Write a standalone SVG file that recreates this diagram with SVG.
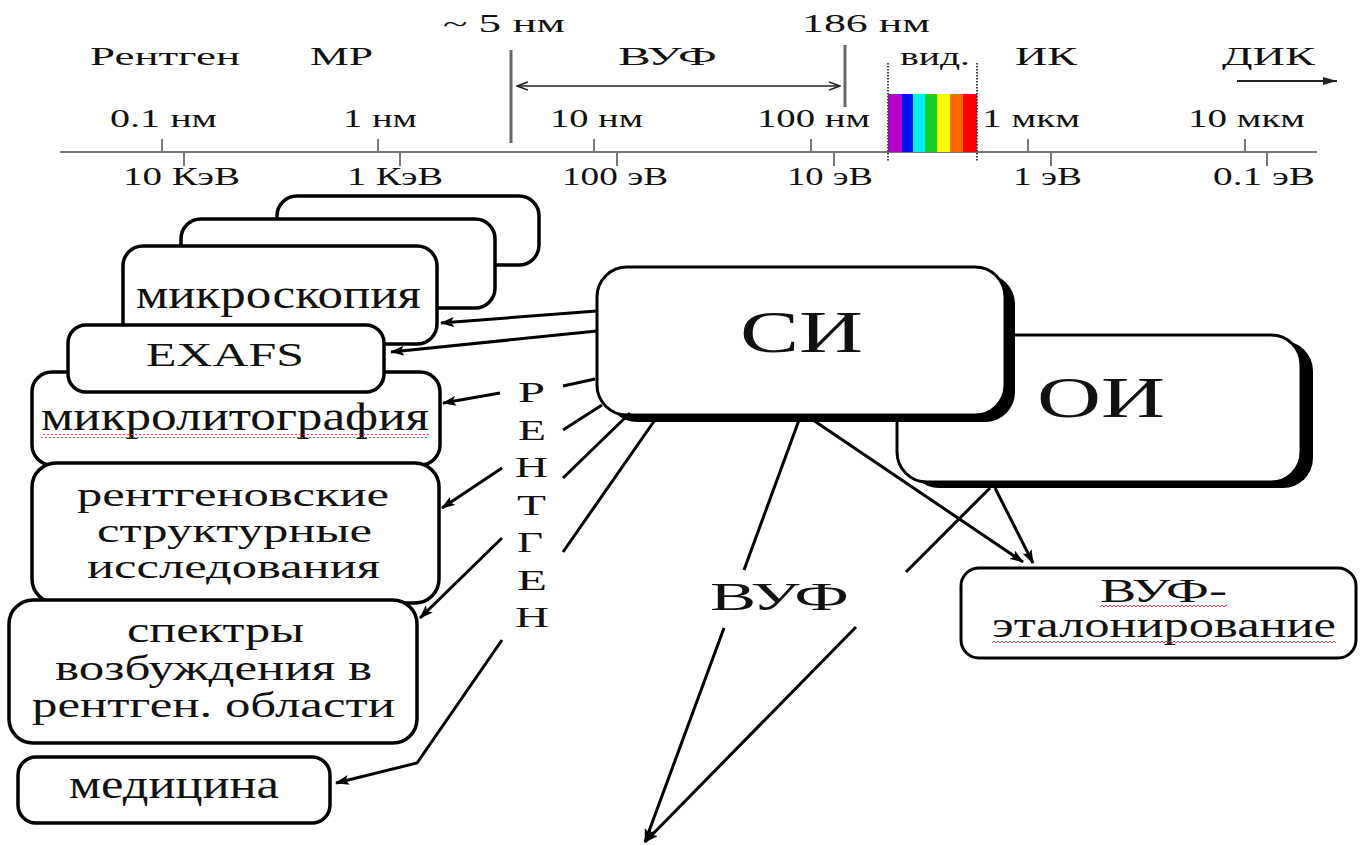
<svg xmlns="http://www.w3.org/2000/svg" width="1360" height="845" viewBox="0 0 1360 845">
<defs>
<style>
text{font-family:"Liberation Serif","Times New Roman",serif;fill:#111}
.sc{font-size:26px}
.bx{font-size:40px}
.ml{font-size:36px}
.ax{stroke:#777;stroke-width:2;fill:none}
.vl{stroke:#666;stroke-width:3}
.box{fill:#fff;stroke:#000;stroke-width:3.5}
.con{fill:none;stroke:#000;stroke-width:3;marker-end:url(#ah)}
.dot{stroke:#444;stroke-width:2;stroke-dasharray:1.5 1.5}
.wv{fill:url(#wave)}
</style>
<marker id="ah" viewBox="0 0 14 10" refX="13" refY="5" markerWidth="14" markerHeight="10" markerUnits="userSpaceOnUse" orient="auto"><path d="M0,0 L14,5 L0,10 L3,5 z" fill="#000"/></marker>
<marker id="va" viewBox="0 0 12 10" refX="11" refY="5" markerWidth="12" markerHeight="10" markerUnits="userSpaceOnUse" orient="auto-start-reverse"><path d="M0,1 L11,5 L0,9" fill="none" stroke="#222" stroke-width="1.5"/></marker>
<marker id="fa" viewBox="0 0 14 8" refX="14" refY="4" markerWidth="14" markerHeight="8" markerUnits="userSpaceOnUse" orient="auto"><path d="M0,0 L14,4 L0,8 z" fill="#222"/></marker>
<pattern id="wave" x="0" y="0" width="4" height="4" patternUnits="userSpaceOnUse"><path d="M0,3 L2,1 L4,3" fill="none" stroke="#d33" stroke-width="0.9"/></pattern>
</defs>
<rect width="1360" height="845" fill="#fff"/>

<g id="scale">
<line class="ax" x1="60" y1="152" x2="1317" y2="152"/>
<path class="ax" d="M162,139V152 M378,139V152 M594,139V152 M811,139V152 M1028,139V152 M1245,139V152"/>
<path class="ax" d="M184,152V166 M400,152V166 M617,152V166 M834,152V166 M1051,152V166 M1267,152V166"/>
<line class="vl" x1="511" y1="50" x2="511" y2="143"/>
<line class="vl" x1="845" y1="45" x2="845" y2="107"/>
<line x1="517" y1="86" x2="840" y2="86" stroke="#222" stroke-width="1.5" marker-start="url(#va)" marker-end="url(#va)"/>
<line x1="1237" y1="81" x2="1337" y2="81" stroke="#222" stroke-width="2" marker-end="url(#fa)"/>
<rect x="888" y="94" width="14" height="58" fill="#b400c8"/>
<rect x="902" y="94" width="11" height="58" fill="#0010f0"/>
<rect x="913" y="94" width="12" height="58" fill="#00f0f0"/>
<rect x="925" y="94" width="12" height="58" fill="#10d020"/>
<rect x="937" y="94" width="13" height="58" fill="#ffff00"/>
<rect x="950" y="94" width="13" height="58" fill="#ff6a00"/>
<rect x="963" y="94" width="14" height="58" fill="#ff0000"/>
<line class="dot" x1="888" y1="63" x2="888" y2="162"/>
<line class="dot" x1="977" y1="63" x2="977" y2="162"/>
<text class="sc" x="90" y="65" textLength="150" lengthAdjust="spacingAndGlyphs">Рентген</text>
<text class="sc" x="310" y="65" textLength="63" lengthAdjust="spacingAndGlyphs">МР</text>
<text class="sc" x="443" y="32" textLength="122" lengthAdjust="spacingAndGlyphs">~ 5 нм</text>
<text class="sc" x="802" y="32" textLength="128" lengthAdjust="spacingAndGlyphs">186 нм</text>
<text class="sc" x="618" y="65" textLength="99" lengthAdjust="spacingAndGlyphs">ВУФ</text>
<text class="sc" x="900" y="65" textLength="70" lengthAdjust="spacingAndGlyphs">вид.</text>
<text class="sc" x="1015" y="65" textLength="62" lengthAdjust="spacingAndGlyphs">ИК</text>
<text class="sc" x="1222" y="65" textLength="93" lengthAdjust="spacingAndGlyphs">ДИК</text>
<text class="sc" x="110" y="127" textLength="107" lengthAdjust="spacingAndGlyphs">0.1 нм</text>
<text class="sc" x="343" y="127" textLength="74" lengthAdjust="spacingAndGlyphs">1 нм</text>
<text class="sc" x="550" y="127" textLength="93" lengthAdjust="spacingAndGlyphs">10 нм</text>
<text class="sc" x="757" y="127" textLength="113" lengthAdjust="spacingAndGlyphs">100 нм</text>
<text class="sc" x="982" y="127" textLength="98" lengthAdjust="spacingAndGlyphs">1 мкм</text>
<text class="sc" x="1188" y="127" textLength="117" lengthAdjust="spacingAndGlyphs">10 мкм</text>
<text class="sc" x="123" y="185" textLength="117" lengthAdjust="spacingAndGlyphs">10 КэВ</text>
<text class="sc" x="347" y="185" textLength="96" lengthAdjust="spacingAndGlyphs">1 КэВ</text>
<text class="sc" x="562" y="185" textLength="106" lengthAdjust="spacingAndGlyphs">100 эВ</text>
<text class="sc" x="787" y="185" textLength="86" lengthAdjust="spacingAndGlyphs">10 эВ</text>
<text class="sc" x="1013" y="185" textLength="69" lengthAdjust="spacingAndGlyphs">1 эВ</text>
<text class="sc" x="1213" y="185" textLength="102" lengthAdjust="spacingAndGlyphs">0.1 эВ</text>
</g>

<g id="back1"><rect class="box" x="277" y="196" width="262" height="69" rx="20"/></g>
<g id="back2"><rect class="box" x="181" y="219" width="314" height="89" rx="20"/></g>
<g id="mikroskopiya"><rect class="box" x="123" y="246" width="314" height="98" rx="20"/>
<text class="bx" x="136" y="308" textLength="285" lengthAdjust="spacingAndGlyphs">микроскопия</text></g>
<g id="mikrolitografiya"><rect class="box" x="32" y="372" width="408" height="93" rx="20"/>
<text class="bx" x="41" y="430" textLength="388" lengthAdjust="spacingAndGlyphs">микролитография</text>
<rect class="wv" x="41" y="434" width="388" height="4"/></g>
<g id="rentgenovskie"><rect class="box" x="32" y="463" width="407" height="140" rx="24"/>
<text x="77" y="506" style="font-size:34px" textLength="312" lengthAdjust="spacingAndGlyphs">рентгеновские</text>
<text x="97" y="542" style="font-size:34px" textLength="275" lengthAdjust="spacingAndGlyphs">структурные</text>
<text x="87" y="578" style="font-size:34px" textLength="293" lengthAdjust="spacingAndGlyphs">исследования</text></g>
<g id="spektry"><rect class="box" x="9" y="600" width="408" height="143" rx="24"/>
<text class="ml" x="127" y="642" textLength="177" lengthAdjust="spacingAndGlyphs">спектры</text>
<text class="ml" x="55" y="680" textLength="317" lengthAdjust="spacingAndGlyphs">возбуждения в</text>
<text class="ml" x="32" y="717" textLength="363" lengthAdjust="spacingAndGlyphs">рентген. области</text></g>
<g id="exafs"><rect class="box" x="68" y="325" width="316" height="67" rx="18"/>
<text x="146" y="366" style="font-size:33px" textLength="158" lengthAdjust="spacingAndGlyphs">EXAFS</text></g>
<g id="meditsina"><rect class="box" x="18" y="757" width="312" height="66" rx="18"/>
<text class="bx" x="69" y="798" textLength="210" lengthAdjust="spacingAndGlyphs">медицина</text></g>

<g id="OI"><rect x="909" y="341" width="404" height="147" rx="30" fill="#000"/>
<rect x="897" y="335" width="404" height="147" rx="30" fill="#fff" stroke="#000" stroke-width="3"/>
<text x="1037" y="417" style="font-size:57px" textLength="128" lengthAdjust="spacingAndGlyphs">ОИ</text></g>
<g id="SI"><rect x="607" y="274" width="408" height="148" rx="30" fill="#000"/>
<rect x="597" y="267" width="408" height="148" rx="30" fill="#fff" stroke="#000" stroke-width="3"/>
<text x="740" y="352" style="font-size:60px" textLength="123" lengthAdjust="spacingAndGlyphs">СИ</text></g>

<g id="vuf-etalon"><rect x="961" y="568" width="395" height="90" rx="18" fill="#fff" stroke="#000" stroke-width="3"/>
<text x="1100" y="602" style="font-size:34px" textLength="127" lengthAdjust="spacingAndGlyphs">ВУФ-</text>
<rect class="wv" x="1100" y="604" width="127" height="4"/>
<text x="992" y="637" style="font-size:35px" textLength="344" lengthAdjust="spacingAndGlyphs">эталонирование</text>
<rect class="wv" x="992" y="641" width="344" height="4"/></g>

<g id="rentgen-label">
<text x="518" y="402" style="font-size:30px" textLength="27" lengthAdjust="spacingAndGlyphs">Р</text>
<text x="518" y="440" style="font-size:30px" textLength="28" lengthAdjust="spacingAndGlyphs">Е</text>
<text x="515" y="477" style="font-size:30px" textLength="33" lengthAdjust="spacingAndGlyphs">Н</text>
<text x="517" y="515" style="font-size:30px" textLength="29" lengthAdjust="spacingAndGlyphs">Т</text>
<text x="517" y="552" style="font-size:30px" textLength="26" lengthAdjust="spacingAndGlyphs">Г</text>
<text x="517" y="590" style="font-size:30px" textLength="30" lengthAdjust="spacingAndGlyphs">Е</text>
<text x="515" y="627" style="font-size:30px" textLength="34" lengthAdjust="spacingAndGlyphs">Н</text>
</g>
<g id="vuf-label"><text x="710" y="610" style="font-size:40px" textLength="139" lengthAdjust="spacingAndGlyphs">ВУФ</text></g>

<g id="connectors">
<path class="con" d="M597,311 L441,323"/>
<path class="con" d="M597,331 L391,352"/>
<path class="con" d="M595,379 L563,386 M500,393 L443,403"/>
<path class="con" d="M602,405 L563,430 M502,468 L442,508"/>
<path class="con" d="M630,413 L563,478 M502,538 L420,618"/>
<path class="con" d="M657,417 L563,552 M502,640 L417,763 L336,783"/>
<path class="con" d="M799,420 L744,570 M724,628 L645,842"/>
<path class="con" d="M990,488 L906,572 M856,627 L645,842"/>
<path class="con" d="M813,420 L1023,562"/>
<path class="con" d="M995,488 L1033,563"/>
</g>
</svg>
